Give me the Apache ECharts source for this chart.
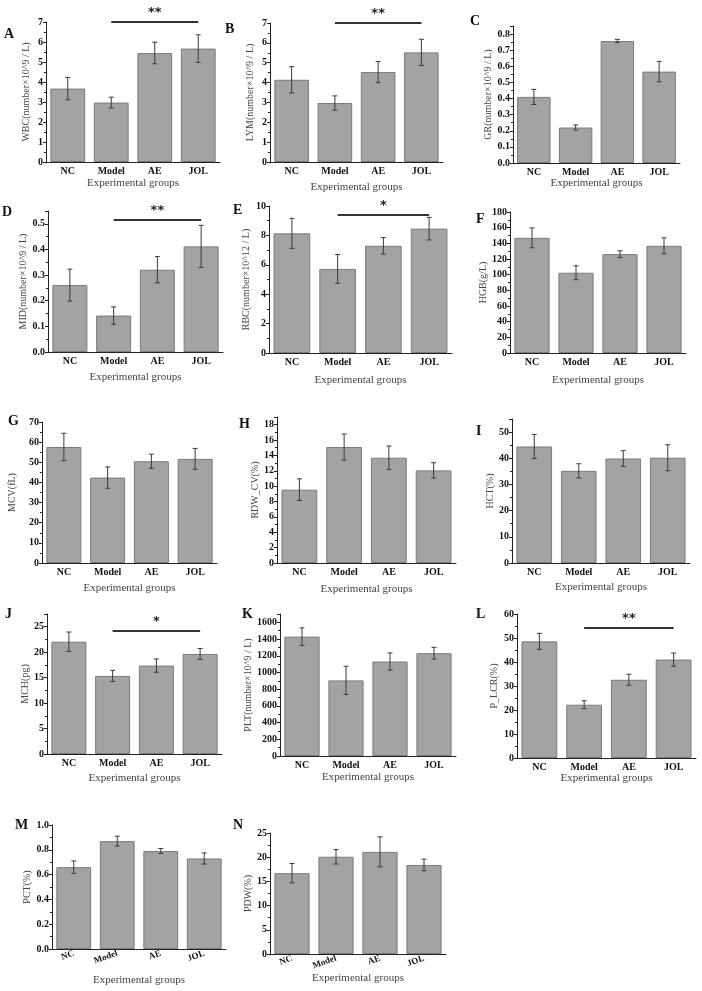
<!DOCTYPE html>
<html>
<head>
<meta charset="utf-8">
<script src="https://cdn.jsdelivr.net/npm/echarts@6/dist/echarts.min.js"></script>
<style>
  body { margin: 0; background: #fff; }
  #main { width: 702px; height: 991px; }
</style>
</head>
<body>
<div id="main"></div>
<script>
// 组别
const groups = ['NC', 'Model', 'AE', 'JOL'];

// 各指标均值与误差
const wbc = [3.67, 2.97, 5.45, 5.67];
const wbcErr = [0.56, 0.27, 0.54, 0.69];
const lym = [4.14, 2.97, 4.53, 5.52];
const lymErr = [0.66, 0.36, 0.53, 0.66];
const gr = [0.41, 0.22, 0.757, 0.567];
const grErr = [0.047, 0.016, 0.01, 0.063];
const mid = [0.261, 0.142, 0.321, 0.412];
const midErr = [0.062, 0.034, 0.051, 0.082];
const rbc = [8.14, 5.72, 7.29, 8.46];
const rbcErr = [1.02, 0.98, 0.56, 0.77];
const hgb = [147, 102.5, 126.2, 136.8];
const hgbErr = [12.7, 8.9, 4.3, 10.2];
const mcv = [57.6, 42.4, 50.5, 51.7];
const mcvErr = [6.8, 5.3, 3.5, 5.2];
const rdw = [9.54, 15.09, 13.7, 12.05];
const rdwErr = [1.41, 1.7, 1.52, 1.0];
const hct = [44.5, 35.2, 39.9, 40.2];
const hctErr = [4.6, 2.7, 3.0, 4.95];
const mch = [22.06, 15.34, 17.36, 19.65];
const mchErr = [1.9, 1.1, 1.3, 1.08];
const plt = [1429, 905, 1131, 1231];
const pltErr = [105, 169, 103, 70];
const plcr = [48.6, 22.2, 32.6, 41.0];
const plcrErr = [3.35, 1.65, 2.3, 2.75];
const pct = [0.66, 0.87, 0.79, 0.73];
const pctErr = [0.05, 0.04, 0.02, 0.045];
const pdw = [16.7, 20.1, 21.1, 18.4];
const pdwErr = [2.0, 1.5, 3.1, 1.2];

// 面板: 字母, y轴名, 数据, 误差, y轴范围, 显著性
const panels = [
    {tag: 'A', name: 'WBC(number×10^9 / L)', data: wbc, err: wbcErr, max: 7, step: 1, sig: '**', sigY: 7},
    {tag: 'B', name: 'LYM(number×10^9 / L)', data: lym, err: lymErr, max: 7, step: 1, sig: '**', sigY: 7},
    {tag: 'C', name: 'GR(number×10^9 / L)', data: gr, err: grErr, max: 0.85, step: 0.1, sig: '**', sigY: 0.875, digits: 1},
    {tag: 'D', name: 'MID(number×10^9 / L)', data: mid, err: midErr, max: 0.55, step: 0.1, sig: '**', sigY: 0.516, digits: 1},
    {tag: 'E', name: 'RBC(number×10^12 / L)', data: rbc, err: rbcErr, max: 10, step: 2, sig: '*', sigY: 9.39},
    {tag: 'F', name: 'HGB(g/L)', data: hgb, err: hgbErr, max: 180, step: 20},
    {tag: 'G', name: 'MCV(fL)', data: mcv, err: mcvErr, max: 70, step: 10},
    {tag: 'H', name: 'RDW_CV(%)', data: rdw, err: rdwErr, max: 19, step: 2},
    {tag: 'I', name: 'HCT(%)', data: hct, err: hctErr, max: 55, step: 10},
    {tag: 'J', name: 'MCH(pg)', data: mch, err: mchErr, max: 27.5, step: 5, sig: '*', sigY: 24.2},
    {tag: 'K', name: 'PLT(number×10^9 / L)', data: plt, err: pltErr, max: 1700, step: 200},
    {tag: 'L', name: 'P_LCR(%)', data: plcr, err: plcrErr, max: 60, step: 10, sig: '**', sigY: 54.2},
    {tag: 'M', name: 'PCT(%)', data: pct, err: pctErr, max: 1.0, step: 0.2, digits: 1, slant: true},
    {tag: 'N', name: 'PDW(%)', data: pdw, err: pdwErr, max: 25, step: 5, slant: true}
];

// 版面位置 [left, top, width, height, y名距离, x名距离, 字母x, 字母y]
const layout = [
    [46, 22, 174, 140, 15, 16, 9, 35],
    [270, 23, 173, 139, 15, 20, 230, 30],
    [513, 26, 167, 137, 20, 15, 475, 22],
    [48, 211, 175, 141, 17, 20, 7, 213],
    [269, 206, 183, 147, 18, 22, 238, 211],
    [510, 212, 176, 141, 19, 22, 481, 220],
    [42, 422, 175, 141, 25, 20, 13, 422],
    [277, 417, 179, 146, 16, 21, 244, 425],
    [512, 419, 178, 144, 17, 19, 481, 432],
    [47, 614, 175, 140, 16, 19, 10, 615],
    [280, 614, 176, 142, 18, 16, 247, 615],
    [517, 614, 179, 144, 18, 15, 481, 615],
    [52, 825, 174, 124, 18, 26, 20, 826],
    [270, 833, 176, 121, 16, 16, 238, 826]
];

const serif = 'Liberation Serif';

function renderErr(params, api) {
    let x = api.value(0);
    let top = api.coord([x, api.value(2)]);
    let bottom = api.coord([x, api.value(1)]);
    let cap = 2.5;
    let style = {stroke: '#3a3a3a', lineWidth: 1};
    return {
        type: 'group',
        children: [
            {type: 'line', shape: {x1: top[0], y1: top[1], x2: bottom[0], y2: bottom[1]}, style: style},
            {type: 'line', shape: {x1: top[0] - cap, y1: top[1], x2: top[0] + cap, y2: top[1]}, style: style},
            {type: 'line', shape: {x1: bottom[0] - cap, y1: bottom[1], x2: bottom[0] + cap, y2: bottom[1]}, style: style}
        ]
    };
}

let option = {
    animation: false,
    backgroundColor: '#fff',
    grid: [],
    xAxis: [],
    yAxis: [],
    series: [],
    graphic: []
};

panels.forEach((p, i) => {
    let l = layout[i];
    // max 不是刻度倍数时不显示顶端标签
    let ratio = p.max / p.step;
    let evenMax = Math.abs(ratio - Math.round(ratio)) < 1e-6;

    option.grid.push({left: l[0], top: l[1], width: l[2], height: l[3]});
    option.xAxis.push({
        type: 'category',
        gridIndex: i,
        data: groups,
        name: 'Experimental groups',
        nameLocation: 'middle',
        nameGap: l[5],
        nameTextStyle: {fontFamily: serif, fontSize: 11, color: '#444'},
        axisLine: {lineStyle: {color: '#222', width: 1}},
        axisTick: {alignWithLabel: true, length: 3, lineStyle: {color: '#222'}},
        axisLabel: {
            fontFamily: serif, fontWeight: 'bold', fontSize: p.slant ? 9 : 10, color: '#111',
            margin: 4, interval: 0, rotate: p.slant ? 20 : 0
        }
    });
    option.yAxis.push({
        type: 'value',
        gridIndex: i,
        min: 0,
        max: p.max,
        interval: p.step,
        name: p.name,
        nameLocation: 'middle',
        nameGap: l[4],
        nameTextStyle: {fontFamily: serif, fontSize: 10, color: '#444'},
        axisLine: {show: true, lineStyle: {color: '#222', width: 1}},
        axisTick: {show: true, length: 3, lineStyle: {color: '#222'}},
        minorTick: {show: true, splitNumber: 2, length: 2, lineStyle: {color: '#222'}},
        splitLine: {show: false},
        axisLabel: {
            fontFamily: serif, fontWeight: 'bold', fontSize: 10, color: '#111', margin: 3,
            showMaxLabel: evenMax,
            formatter: (v) => p.digits ? v.toFixed(p.digits) : v
        }
    });

    let bar = {
        type: 'bar',
        xAxisIndex: i,
        yAxisIndex: i,
        data: p.data,
        barCategoryGap: '20%',
        itemStyle: {color: '#a3a3a3', borderColor: '#7a7a7a', borderWidth: 1}
    };
    if (p.sig) {
        bar.markLine = {
            symbol: 'none',
            silent: true,
            lineStyle: {color: '#333', width: 2, type: 'solid'},
            label: {
                show: true,
                position: 'insideMiddleTop',
                distance: 3,
                formatter: p.sig,
                fontFamily: 'DejaVu Sans',
                fontWeight: 'bold',
                fontSize: 13,
                color: '#222'
            },
            data: [[{coord: [1, p.sigY]}, {coord: [3, p.sigY]}]]
        };
    }
    option.series.push(bar);

    let errData = [];
    for (let k = 0; k < p.data.length; k++) {
        errData.push([k, p.data[k] - p.err[k], p.data[k] + p.err[k]]);
    }
    option.series.push({
        type: 'custom',
        xAxisIndex: i,
        yAxisIndex: i,
        renderItem: renderErr,
        encode: {x: 0, y: [1, 2]},
        data: errData,
        z: 5
    });

    option.graphic.push({
        type: 'text',
        left: l[6] - 5,
        top: l[7] - 8,
        style: {text: p.tag, font: 'bold 14px "Liberation Serif"', fill: '#111'}
    });
});

let myChart = echarts.init(document.getElementById('main'));
myChart.setOption(option);
</script>
</body>
</html>
